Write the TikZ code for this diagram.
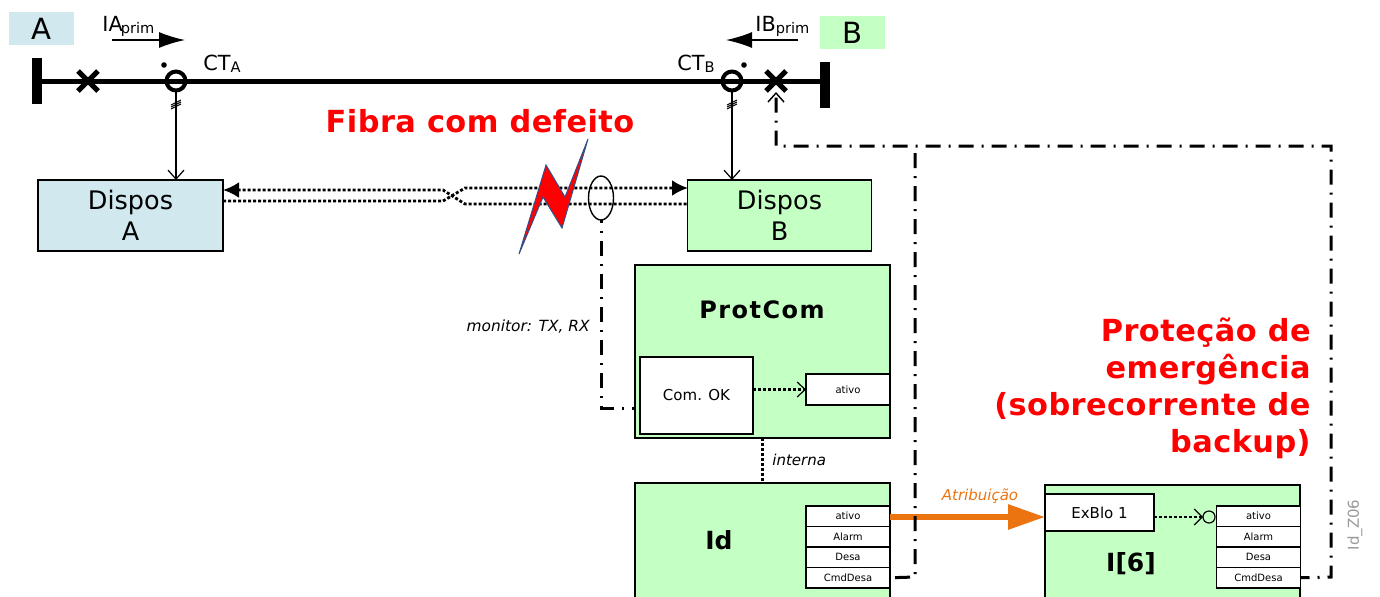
\documentclass[tikz,border=0pt]{standalone}
\usepackage{fontspec}
\setmainfont{DejaVu Sans}
\newfontfamily\widefont[LetterSpace=6]{DejaVu Sans}
\newfontfamily\redfont[LetterSpace=1.5]{DejaVu Sans}
\usepackage{tikz}
\usetikzlibrary{arrows.meta, positioning, shapes.geometric}
\definecolor{PaleBlue}{RGB}{208, 232, 238}
\definecolor{PaleGreen}{RGB}{196, 255, 196}
\definecolor{AttrOrange}{RGB}{236, 116, 16}
\definecolor{BoltBlue}{RGB}{50, 80, 140}

\begin{document}
\begin{tikzpicture}[
    x=0.5pt, y=-0.5pt,
    bus/.style={line width=2.5pt},
    ctring/.style={circle, draw, line width=2pt, inner sep=0pt, outer sep=0pt, minimum size=9.5pt},
    wbox/.style={draw, rectangle, inner sep=0pt, outer sep=0pt, line width=0.6pt, align=center, fill=white},
    dbox/.style={wbox, font=\fontsize{12.75}{15.5}\selectfont},
    sigbox/.style={wbox, minimum width=42pt, minimum height=10.25pt, font=\fontsize{5}{6}\selectfont},
    tag/.style={rectangle, inner sep=0pt, minimum width=32.5pt, minimum height=16.5pt, font=\fontsize{14.6}{16}\selectfont},
    redtext/.style={text=red, font=\redfont\bfseries\fontsize{15.2}{18.5}\selectfont, inner sep=0pt},
    buslabel/.style={anchor=base west, inner sep=0pt, font=\fontsize{10.4}{13}\selectfont},
    arrow/.style={-{Straight Barb[length=4.5pt, width=8pt]}, line width=0.6pt},
    bigtip/.style={-{Latex[length=13pt, width=8pt]}, line width=0.7pt},
    fibre/.style={line width=1.4pt, dash pattern=on 1.5pt off 1pt},
    trip/.style={line width=1.5pt, dash pattern=on 7.5pt off 4pt on 1pt off 4pt},
]
\path[use as bounding box, clip] (0,0) rectangle (1380,596);

% bus
\node[tag, fill=PaleBlue] (tagA) at (41.5,28.5) {A};
\node[tag, fill=PaleGreen] (tagB) at (852.5,32.5) {B};
\node[fill=black, inner sep=0pt, minimum width=5pt, minimum height=23pt] (barA) at (37,81) {};
\node[fill=black, inner sep=0pt, minimum width=5pt, minimum height=23pt] (barB) at (825,85) {};
\coordinate (busB) at (825,81);
\draw[bus] (barA.center) -- (busB);
\node[ctring] (ctA) at (176,81) {};
\node[ctring] (ctB) at (732,81) {};
\node[circle, fill=black, inner sep=0pt, minimum size=2.8pt] (dotA) at (164,65) {};
\node[circle, fill=black, inner sep=0pt, minimum size=2.8pt] (dotB) at (744,65) {};
\draw[line width=2.5pt] (78,71) -- (98,91) (78,91) -- (98,71);
\draw[line width=2.5pt] (766,71) -- (786,91) (766,91) -- (786,71);

% labels on the bus
\node[buslabel] (iaL) at (102,31) {IA\kern-1pt\raisebox{-1pt}{\fontsize{7.3}{9}\selectfont prim}};
\node[buslabel] (ibL) at (755,31) {IB\raisebox{-1pt}{\fontsize{7.3}{9}\selectfont prim}};
\node[buslabel] (ctAL) at (203,70) {CT\raisebox{-1pt}{\fontsize{7.3}{9}\selectfont A}};
\node[buslabel] (ctBL) at (677,70) {CT\raisebox{-1pt}{\fontsize{7.3}{9}\selectfont B}};
\coordinate (iaS) at (112,40);
\coordinate (iaE) at (185,40);
\coordinate (ibS) at (798,40);
\coordinate (ibE) at (726,40);
\draw[bigtip] (iaS) -- (iaE);
\draw[bigtip] (ibS) -- (ibE);

% devices
\node[dbox, fill=PaleBlue, minimum width=92.5pt, minimum height=35.5pt] (disA) at (130.5,215.5) {Dispos\\A};
\node[dbox, fill=PaleGreen, minimum width=92pt, minimum height=35.5pt] (disB) at (779.5,215.5) {Dispos\\B};
\draw[arrow] (ctA) -- (disA.north -| ctA);
\draw[arrow] (ctB) -- (disB.north -| ctB);
\draw[line width=0.5pt] (171,109) -- (181,104) (171,107) -- (181,102) (171,105) -- (181,100);
\draw[line width=0.5pt] (727,109) -- (737,104) (727,107) -- (737,102) (727,105) -- (737,100);

% fibre pair
\coordinate (fibA1) at (223,190);
\coordinate (fibA2) at (223,201);
\coordinate (fibB1) at (688,188);
\coordinate (fibB2) at (688,204);
\draw[fibre, {Latex[length=8pt, width=8pt]}-] (fibA1) -- (443,190) -- (465,204) -- (fibB2);
\draw[fibre, -{Latex[length=8pt, width=8pt]}] (fibA2) -- (443,201) -- (465,188) -- (fibB1);

\node[redtext] (fibL) at (480,121) {Fibra com defeito};
\draw[fill=red, draw=BoltBlue, line width=0.5pt] (588,139) -- (565,197) -- (546,165) -- (519,254) -- (543,197) -- (562,228) -- cycle;
\node[draw, ellipse, line width=0.7pt, inner sep=0pt, minimum width=12.5pt, minimum height=22pt, outer sep=0pt] (mon) at (601,198) {};

% protection functions
\node[wbox, fill=PaleGreen, minimum width=127.5pt, minimum height=86.5pt] (prot) at (762.5,351.5) {};
\node[font=\widefont\bfseries\fontsize{12}{14}\selectfont, inner sep=0pt] (protL) at (762,310) {ProtCom};
\node[wbox, minimum width=56.5pt, minimum height=38.5pt, font=\fontsize{7.5}{9}\selectfont] (comOK) at (696.5,395.5) {Com. OK};
\node[sigbox, minimum height=15.5pt] (pAtivo) at (848,389.5) {ativo};
\draw[fibre, -{Straight Barb[length=4pt, width=7.5pt, line width=0.6pt]}] (comOK.east |- pAtivo) -- (pAtivo.west);

\coordinate (monT) at (601,408);
\draw[trip, dash phase=6pt] (mon.south) -- (monT) -- (prot.west |- monT);
\node[left, inner sep=0pt, font=\itshape\fontsize{7.7}{9}\selectfont] (monL) at (590,327) {monitor: TX, RX};

\node[wbox, fill=PaleGreen, minimum width=127.5pt, minimum height=100pt, anchor=north] (idb) at (762.5,483) {};
\draw[fibre, line width=1.5pt] (prot.south) -- (idb.north);
\node[right, inner sep=0pt, font=\itshape\fontsize{7.5}{9}\selectfont] (intL) at (772,460) {interna};
\node[font=\bfseries\fontsize{12.5}{15}\selectfont, inner sep=0pt] (idL) at (719,540) {Id};
\node[sigbox, anchor=north] (idAt) at (848,506) {ativo};
\node[sigbox, below=0pt of idAt] (idAl) {Alarm};
\node[sigbox, below=0pt of idAl] (idDe) {Desa};
\node[sigbox, below=0pt of idDe] (idCm) {CmdDesa};

\node[wbox, fill=PaleGreen, minimum width=127.5pt, minimum height=100pt, anchor=north] (ib) at (1172.5,485) {};
\node[wbox, minimum width=54.5pt, minimum height=18.5pt, font=\fontsize{7.5}{9}\selectfont] (exb) at (1099.5,512.5) {ExBlo 1};
\node[font=\bfseries\fontsize{12.5}{15}\selectfont, inner sep=0pt] (ibL2) at (1131,564) {I[6]};
\node[sigbox, anchor=north] (ibAt) at (1258.5,506) {ativo};
\node[sigbox, below=0pt of ibAt] (ibAl) {Alarm};
\node[sigbox, below=0pt of ibAl] (ibDe) {Desa};
\node[sigbox, below=0pt of ibDe] (ibCm) {CmdDesa};
\node[circle, draw, fill=PaleGreen, line width=0.6pt, inner sep=0pt, minimum size=6pt, outer sep=0pt] (neg) at (1209,517) {};
\draw[fibre, -{Straight Barb[length=4pt, width=8pt, line width=0.6pt]}] (exb.east |- neg) -- (neg.west);

% assignment
\draw[line width=3pt, AttrOrange, -{Triangle[length=18.5pt, width=12pt]}] (idAt.east |- neg) -- (exb.west |- neg);
\node[text=AttrOrange, inner sep=0pt, font=\itshape\fontsize{7.5}{9}\selectfont] (attrL) at (980,496) {Atribuição};

% trip paths
\coordinate (tripN) at (776,146);
\coordinate (tripE) at (1331,146);
\coordinate (tripI) at (1331,577);
\coordinate (tripD) at (915,577);
\coordinate (tripM) at (915,146);
\coordinate (tripX) at (776,92);
\draw[trip, dash phase=14pt] (idCm.east) -- (tripD) -- (tripM);
\draw[trip, dash phase=3pt, -{Straight Barb[length=4.5pt, width=8pt, line width=0.7pt]}] (ibCm.east) -- (tripI) -- (tripE) -- (tripN) -- (tripX);

\node[redtext, align=right, anchor=north east] (emL) at (1311,317) {Proteção de\\emergência\\(sobrecorrente de\\backup)};
\node[text=gray!80, rotate=90, inner sep=0pt, font=\fontsize{7.5}{9}\selectfont] (refL) at (1355,525) {Id\_Z06};
\end{tikzpicture}
\end{document}
